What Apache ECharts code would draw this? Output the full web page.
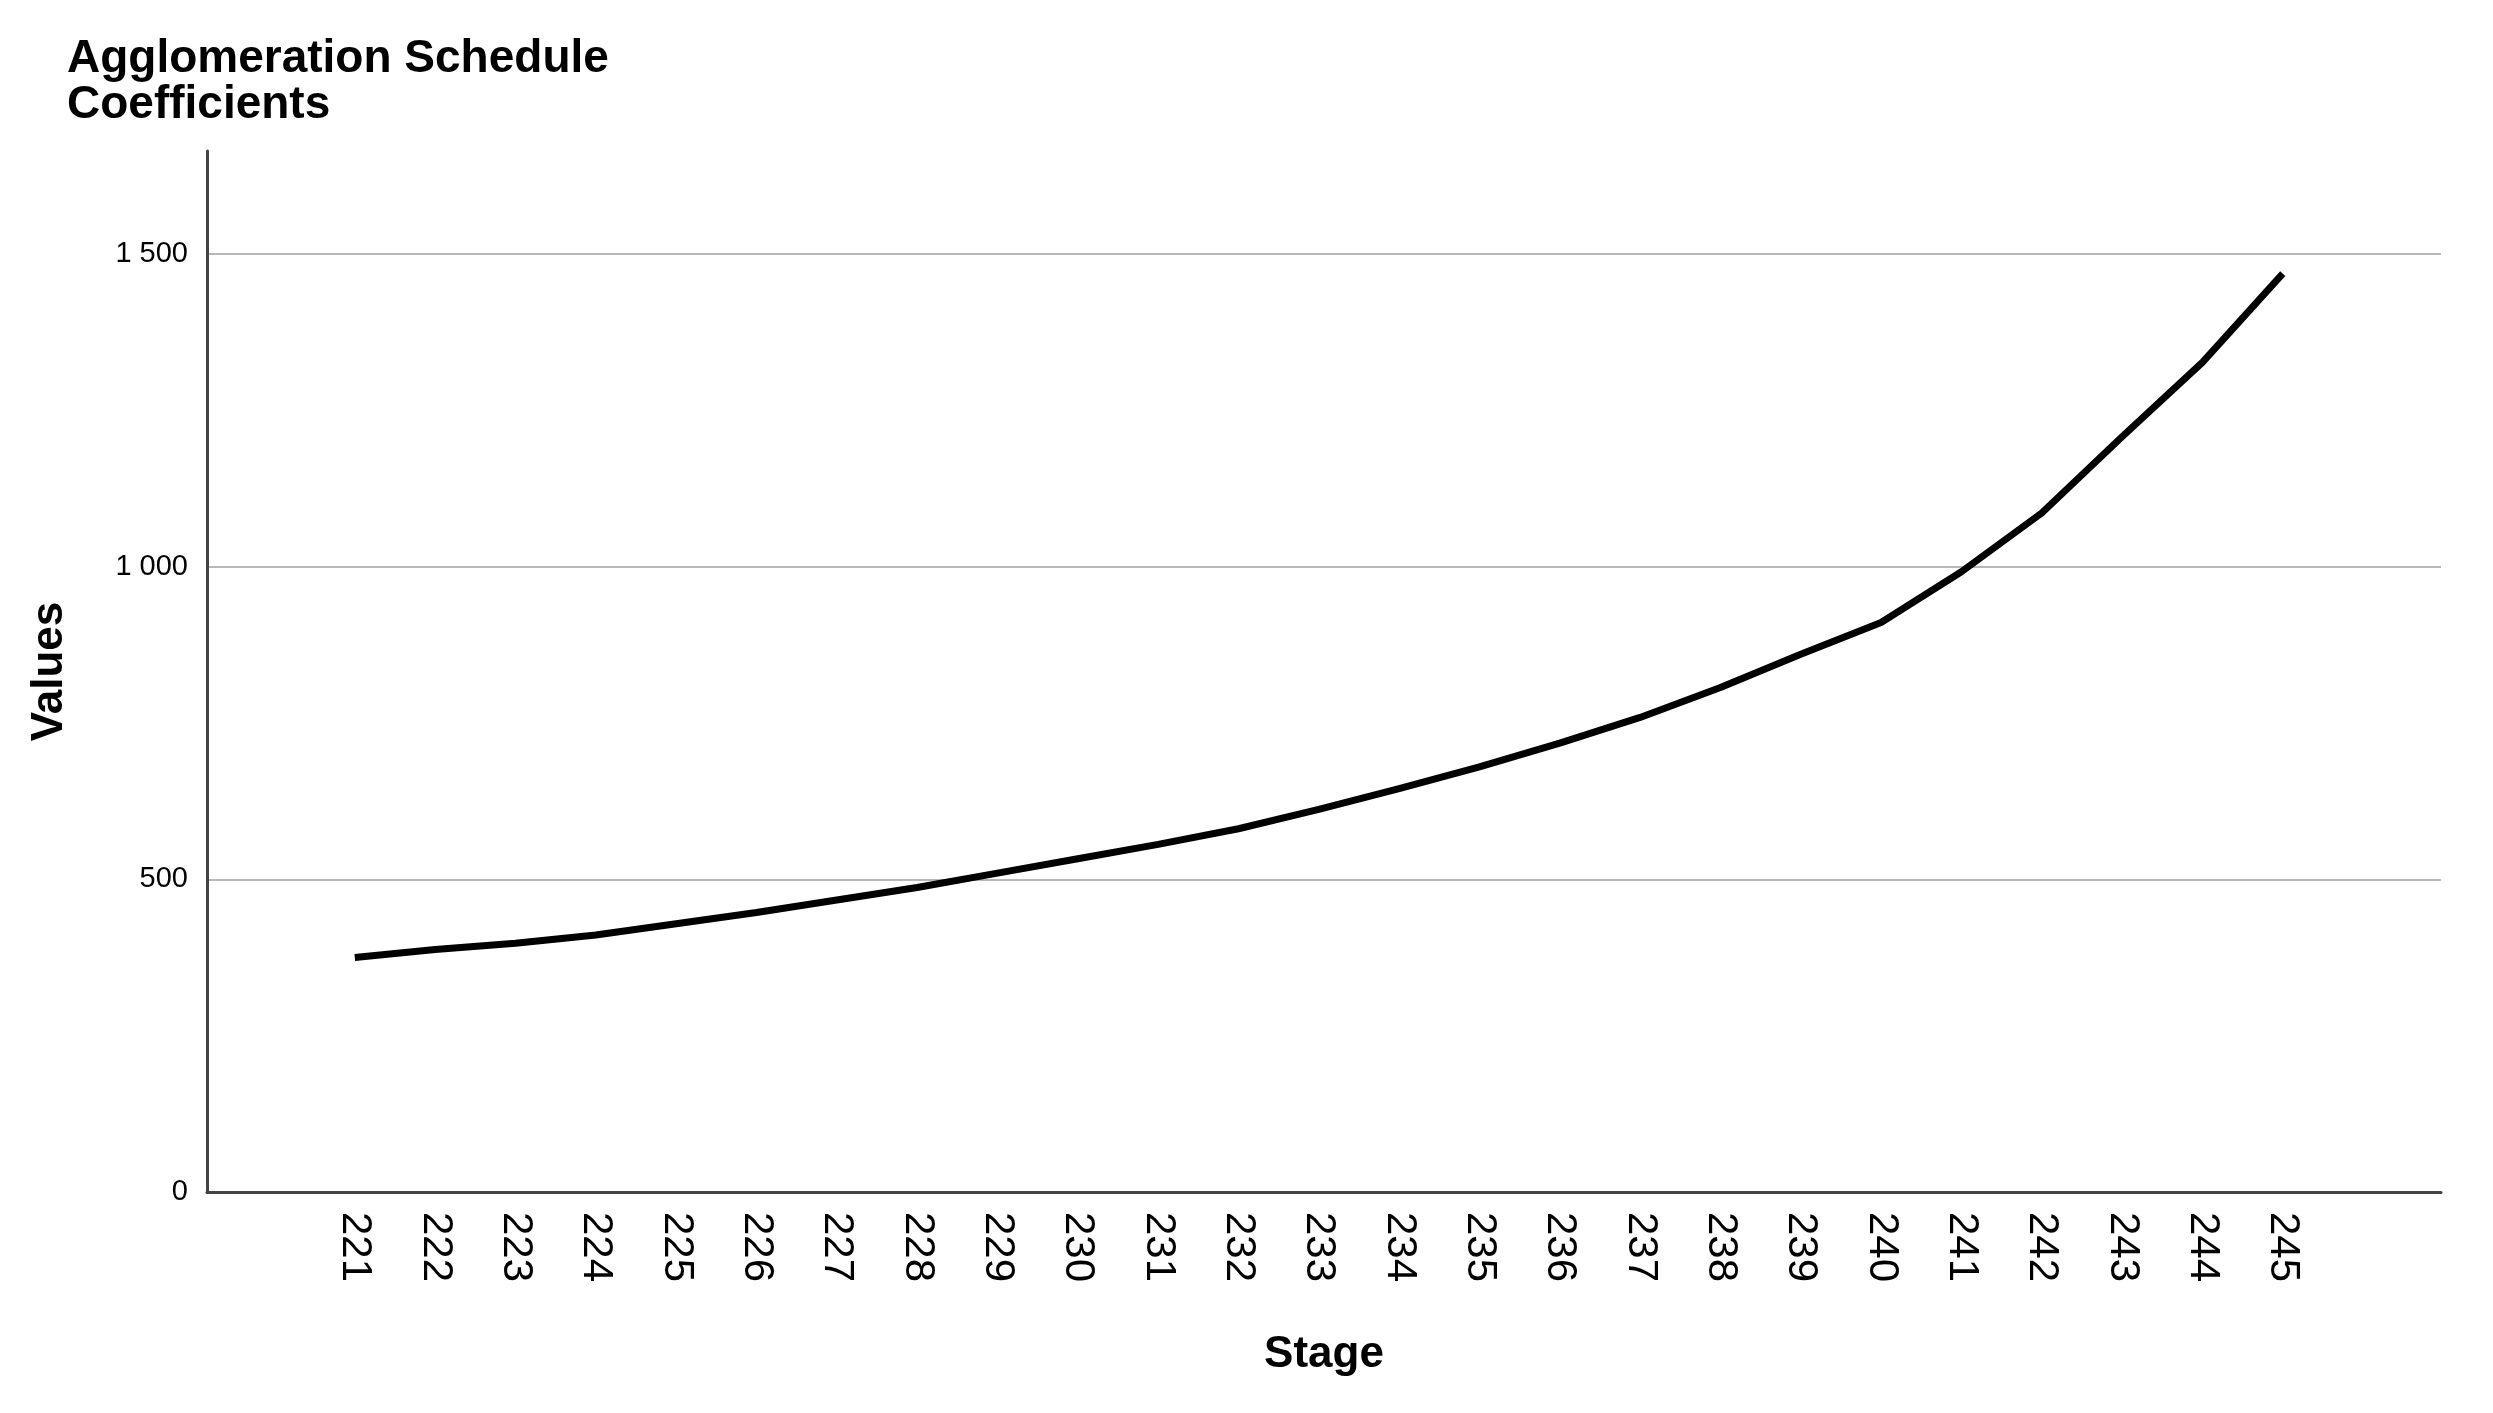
<!DOCTYPE html>
<html>
<head>
<meta charset="utf-8">
<script src="https://cdn.jsdelivr.net/npm/echarts@6/dist/echarts.min.js"></script>
<style>
html,body{margin:0;padding:0;background:#fff;}
#c{width:2493px;height:1413px;}
</style>
</head>
<body>
<div id="c"></div>
<script>
const stages = [221,222,223,224,225,226,227,228,229,230,231,232,233,234,235,236,237,238,239,240,241,242,243,244,245];
const coefficients = [375,388,398,411,429,447,467,487,510,533,556,581,612,645,680,718,759,807,860,911,992,1086,1208,1327,1469];
const yTicks = [0,500,1000,1500];

const chart = echarts.init(document.getElementById('c'), null, {renderer:'canvas'});
const FONT = "'Liberation Sans', Arial, Helvetica, sans-serif";
function fmt(v){
  if (v >= 1000) { return Math.floor(v/1000) + ' ' + String(v % 1000).padStart(3,'0'); }
  return String(v);
}
chart.setOption({
  animation:false,
  backgroundColor:'#fff',
  title:{
    text:'Agglomeration Schedule\nCoefficients',
    left:62, top:31,
    textStyle:{fontFamily:FONT, fontWeight:'bold', fontSize:46, lineHeight:46, color:'#000'}
  },
  grid:{left:207, right:52, top:151, bottom:221, containLabel:false},
  xAxis:{
    type:'value', min:219.16, max:246.97,
    name:'Stage', nameLocation:'middle', nameGap:141,
    nameTextStyle:{fontFamily:FONT, fontWeight:'bold', fontSize:44, color:'#000'},
    axisLine:{show:true, lineStyle:{color:'#444', width:3}},
    axisTick:{show:false},
    splitLine:{show:false},
    axisLabel:{customValues:stages, rotate:-90, margin:20, fontFamily:FONT, fontSize:42, color:'#000'}
  },
  yAxis:{
    type:'value', min:0, max:1665, interval:500,
    name:'Values', nameLocation:'middle', nameGap:135, nameRotate:90,
    nameTextStyle:{fontFamily:FONT, fontWeight:'bold', fontSize:44, color:'#000'},
    axisLine:{show:true, lineStyle:{color:'#444', width:3}},
    axisTick:{show:false},
    splitLine:{show:true, showMinLine:false, showMaxLine:false, lineStyle:{color:'#b8b8b8', width:2}},
    axisLabel:{customValues:yTicks, margin:19, fontFamily:FONT, fontSize:29, color:'#000', formatter:fmt}
  },
  series:[{
    type:'line',
    data: stages.map((s,i)=>[s, coefficients[i]]),
    showSymbol:false,
    symbol:'none',
    lineStyle:{color:'#000', width:7},
    z:3
  }]
});
</script>
</body>
</html>
